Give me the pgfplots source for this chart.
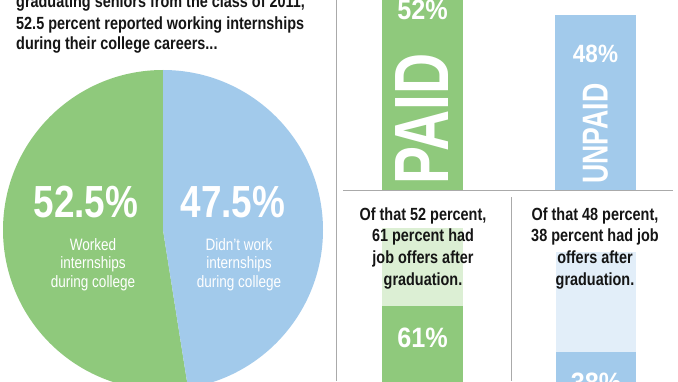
\documentclass[border=0pt]{standalone}
\usepackage{pgfplots}
\pgfplotsset{compat=1.18}
\usepackage{fontspec}
\setmainfont[FakeStretch=0.82]{Liberation Sans}
\newfontfamily\condB[FakeStretch=0.74]{Liberation Sans}
\newfontfamily\condC[FakeStretch=0.9]{Liberation Sans}
\definecolor{pgreen}{HTML}{8FC97C}
\definecolor{pblue}{HTML}{A2CAEB}
\definecolor{lgreen}{HTML}{DCEFD4}
\definecolor{lblue}{HTML}{E2EEF9}
\definecolor{rule}{HTML}{AAAAAA}
\definecolor{ink}{HTML}{151515}
\pgfplotsset{panel/.style={scale only axis, axis lines=none, clip=false, anchor=south west, xtick=\empty, ytick=\empty, enlargelimits=false}}
\def\worked{52.5}
\def\notworked{47.5}
\begin{document}
\begin{tikzpicture}
\begin{scope}
\clip (0pt,0pt) rectangle (678pt,381pt);
\fill[white] (0pt,0pt) rectangle (678pt,381pt);
% pie
\begin{axis}[panel, at={(0pt,0pt)}, width=336pt, height=381pt, xmin=0, xmax=336, ymin=0, ymax=381]
\fill[pgreen] (axis cs:163,151) -- (axis cs:163,311) arc[start angle=90, delta angle=3.6*\worked, radius=160pt] -- cycle;
\fill[pblue] (axis cs:163,151) -- (axis cs:163,311) arc[start angle=90, delta angle=-3.6*\notworked, radius=160pt] -- cycle;
\end{axis}
% top bars
\begin{axis}[panel, at={(340pt,190.3pt)}, width=338pt, height=190.7pt, xmin=340, xmax=678, ymin=0, ymax=52.1]
\addplot[ybar, bar width=81, bar shift=0pt, fill=pgreen, draw=none] coordinates {(422.5,52)};
\addplot[ybar, bar width=81, bar shift=0pt, fill=pblue, draw=none] coordinates {(595.5,48)};
\end{axis}
% bottom bars
\begin{axis}[panel, at={(340pt,-47pt)}, width=171pt, height=200pt, xmin=340, xmax=511, ymin=0, ymax=100]
\addplot[ybar, bar width=81, bar shift=0pt, fill=lgreen, draw=none] coordinates {(422.5,100)};
\addplot[ybar, bar width=81, bar shift=0pt, fill=pgreen, draw=none] coordinates {(422.5,61)};
\end{axis}
\begin{axis}[panel, at={(511pt,-32.3pt)}, width=167pt, height=161.3pt, xmin=511, xmax=678, ymin=0, ymax=100]
\addplot[ybar, bar width=80, bar shift=0pt, fill=lblue, draw=none] coordinates {(596,100)};
\addplot[ybar, bar width=80, bar shift=0pt, fill=pblue, draw=none] coordinates {(596,38)};
\end{axis}
\begin{scope}[x=1pt,y=1pt]
% rules
\draw[rule, line width=1pt] (336,0) -- (336,381);
\draw[rule, line width=1pt] (343,190.3) -- (673,190.3);
\draw[rule, line width=0.8pt] (511,184) -- (511,0);
% title
\begin{scope}[every node/.style={inner sep=0, text=ink, font=\bfseries\fontsize{17.6}{20.8}\selectfont}]
\node[anchor=base west] at (16,373) {graduating seniors from the class of 2011,};
\node[anchor=base west] at (16,351.5) {52.5 percent reported working internships};
\node[anchor=base west] at (16,331.5) {during their college careers...};
\node[anchor=base] at (423,160.3) {Of that 52 percent,};
\node[anchor=base] at (423,139.3) {61 percent had};
\node[anchor=base] at (423,118) {job offers after};
\node[anchor=base] at (423,96) {graduation.};
\node[anchor=base] at (595,160.3) {Of that 48 percent,};
\node[anchor=base] at (595,139.3) {38 percent had job};
\node[anchor=base] at (595,118) {offers after};
\node[anchor=base] at (595,96) {graduation.};
\end{scope}
% pie labels
\begin{scope}[every node/.style={inner sep=0, text=white}]
\node[anchor=base, font=\bfseries\fontsize{45}{45}\selectfont] at (86,164) {52.5\%};
\node[anchor=base, font=\bfseries\fontsize{45}{45}\selectfont] at (233,164) {47.5\%};
\node[anchor=base, font=\fontsize{16.5}{18}\selectfont] at (93,131) {Worked};
\node[anchor=base, font=\fontsize{16.5}{18}\selectfont] at (93,112.5) {internships};
\node[anchor=base, font=\fontsize{16.5}{18}\selectfont] at (93,94) {during college};
\node[anchor=base, font=\fontsize{16.5}{18}\selectfont] at (239,131) {Didn’t work};
\node[anchor=base, font=\fontsize{16.5}{18}\selectfont] at (239,112.5) {internships};
\node[anchor=base, font=\fontsize{16.5}{18}\selectfont] at (239,94) {during college};
\node[anchor=base, font=\condC\bfseries\fontsize{28}{28}\selectfont] at (422.5,361) {52\%};
\node[anchor=base, font=\condC\bfseries\fontsize{25}{25}\selectfont] at (595.5,318) {48\%};
\node[rotate=90, font=\condB\bfseries\fontsize{77}{77}\selectfont] at (422.5,262) {PAID};
\node[rotate=90, font=\condB\bfseries\fontsize{36}{36}\selectfont] at (595.5,247.5) {UNPAID};
\node[anchor=base, font=\condC\bfseries\fontsize{28}{28}\selectfont] at (422.5,34) {61\%};
\node[anchor=base, font=\condC\bfseries\fontsize{28}{28}\selectfont] at (596,-11) {38\%};
\end{scope}
\end{scope}
\end{scope}
\pgfresetboundingbox
\useasboundingbox (0pt,0pt) rectangle (678pt,381pt);
\end{tikzpicture}
\end{document}
